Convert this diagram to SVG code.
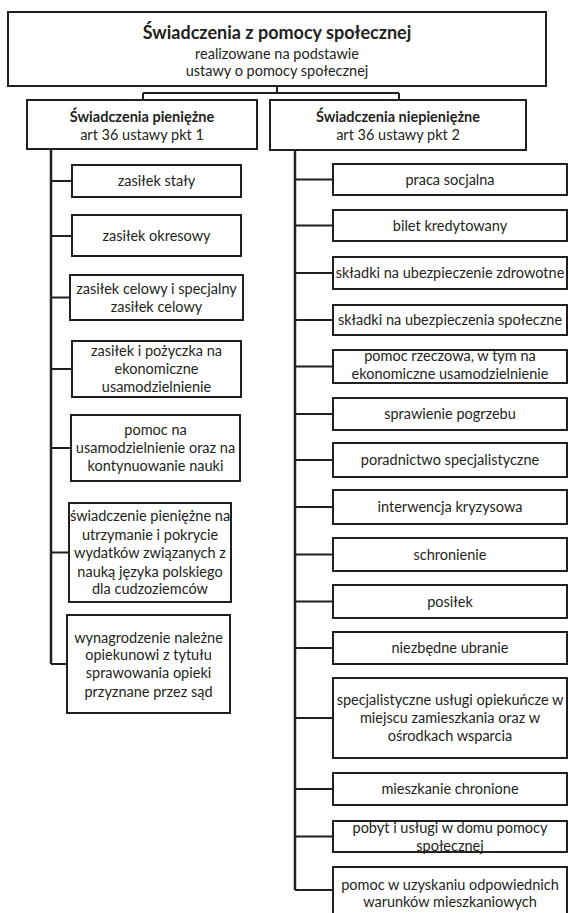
<svg xmlns="http://www.w3.org/2000/svg" width="568" height="913" viewBox="0 0 568 913">
<style>
.box{fill:#fff;stroke:#231f20;stroke-width:2}
.t{font-family:Lato,"Liberation Sans",sans-serif;font-size:14.5px;fill:#231f20;text-anchor:middle}
.b{font-weight:bold}
.title{font-size:18px}
.conn{fill:none;stroke:#231f20;stroke-width:2}
.trunk{fill:none;stroke:#231f20;stroke-width:2.5}
</style>
<rect width="568" height="913" fill="#fff"/>
<g id="connectors">
<path class="conn" d="M277 86V93M143 93H399M143 93V100M399 93V100"/>
<path class="trunk" d="M51 149V664M295 150V890"/>
<path class="conn" d="M51 181H72M51 236H72M51 297.5H70M51 369H72M51 448H71M51 552.5H69M51 664H67"/>
<path class="conn" d="M295 179.5H333M295 225.5H333M295 273H333M295 320H333M295 366.5H333M295 414H333M295 460H333M295 507H333M295 554.5H333M295 601.5H333M295 648H333M295 718H333M295 789H333M295 836.5H333M295 890H333"/>
</g>
<g id="root">
<rect class="box" x="8" y="12" width="538" height="74"/>
<text class="t b title" x="277" y="39">Świadczenia z pomocy społecznej</text>
<text class="t" x="277" y="58.5">realizowane na podstawie</text>
<text class="t" x="277" y="76">ustawy o pomocy społecznej</text>
</g>
<g id="pieniezne">
<rect class="box" x="27" y="100" width="230" height="49"/>
<text class="t b" x="142" y="122">Świadczenia pieniężne</text>
<text class="t" x="142" y="140">art 36 ustawy pkt 1</text>
</g>
<g id="niepieniezne">
<rect class="box" x="270" y="100" width="256" height="50"/>
<text class="t b" x="398" y="122">Świadczenia niepieniężne</text>
<text class="t" x="398" y="140">art 36 ustawy pkt 2</text>
</g>
<g id="l1"><rect class="box" x="72" y="165" width="169" height="32"/><text class="t" x="156.5" y="186">zasiłek stały</text></g>
<g id="l2"><rect class="box" x="72" y="215" width="169" height="41"/><text class="t" x="156.5" y="241">zasiłek okresowy</text></g>
<g id="l3"><rect class="box" x="70" y="275" width="173" height="45"/><text class="t" x="156.5" y="294">zasiłek celowy i specjalny</text><text class="t" x="156.5" y="312">zasiłek celowy</text></g>
<g id="l4"><rect class="box" x="72" y="341" width="169" height="56"/><text class="t" x="156.5" y="356">zasiłek i pożyczka na</text><text class="t" x="156.5" y="374">ekonomiczne</text><text class="t" x="156.5" y="392">usamodzielnienie</text></g>
<g id="l5"><rect class="box" x="71" y="415" width="169" height="66"/><text class="t" x="155.5" y="435">pomoc na</text><text class="t" x="155.5" y="453">usamodzielnienie oraz na</text><text class="t" x="155.5" y="471">kontynuowanie nauki</text></g>
<g id="l6"><rect class="box" x="69" y="503" width="162" height="99"/><text class="t" x="150" y="521">świadczenie pieniężne na</text><text class="t" x="150" y="540">utrzymanie i pokrycie</text><text class="t" x="150" y="558">wydatków związanych z</text><text class="t" x="150" y="577">nauką języka polskiego</text><text class="t" x="150" y="594">dla cudzoziemców</text></g>
<g id="l7"><rect class="box" x="67" y="615" width="163" height="98"/><text class="t" x="148.5" y="643">wynagrodzenie należne</text><text class="t" x="148.5" y="660">opiekunowi z tytułu</text><text class="t" x="148.5" y="678">sprawowania opieki</text><text class="t" x="148.5" y="697">przyznane przez sąd</text></g>
<g id="r1"><rect class="box" x="333" y="164" width="234" height="31"/><text class="t" x="450" y="185">praca socjalna</text></g>
<g id="r2"><rect class="box" x="333" y="210" width="234" height="31"/><text class="t" x="450" y="231">bilet kredytowany</text></g>
<g id="r3"><rect class="box" x="333" y="257" width="234" height="32"/><text class="t" x="450" y="278">składki na ubezpieczenie zdrowotne</text></g>
<g id="r4"><rect class="box" x="333" y="305" width="234" height="30"/><text class="t" x="450" y="325">składki na ubezpieczenia społeczne</text></g>
<g id="r5"><rect class="box" x="333" y="350" width="234" height="33"/><text class="t" x="450" y="361">pomoc rzeczowa, w tym na</text><text class="t" x="450" y="379">ekonomiczne usamodzielnienie</text></g>
<g id="r6"><rect class="box" x="333" y="398" width="234" height="32"/><text class="t" x="450" y="419">sprawienie pogrzebu</text></g>
<g id="r7"><rect class="box" x="333" y="443" width="234" height="34"/><text class="t" x="450" y="465">poradnictwo specjalistyczne</text></g>
<g id="r8"><rect class="box" x="333" y="490" width="234" height="34"/><text class="t" x="450" y="512">interwencja kryzysowa</text></g>
<g id="r9"><rect class="box" x="333" y="538" width="234" height="33"/><text class="t" x="450" y="559.5">schronienie</text></g>
<g id="r10"><rect class="box" x="333" y="585" width="234" height="33"/><text class="t" x="450" y="606.5">posiłek</text></g>
<g id="r11"><rect class="box" x="333" y="632" width="234" height="32"/><text class="t" x="450" y="653">niezbędne ubranie</text></g>
<g id="r12"><rect class="box" x="333" y="678" width="234" height="80"/><text class="t" x="450" y="705">specjalistyczne usługi opiekuńcze w</text><text class="t" x="450" y="723">miejscu zamieszkania oraz w</text><text class="t" x="450" y="741">ośrodkach wsparcia</text></g>
<g id="r13"><rect class="box" x="333" y="773" width="234" height="32"/><text class="t" x="450" y="794">mieszkanie chronione</text></g>
<g id="r14"><rect class="box" x="333" y="821" width="234" height="31"/><text class="t" x="450" y="833">pobyt i usługi w domu pomocy</text><text class="t" x="450" y="851">społecznej</text></g>
<g id="r15"><rect class="box" x="333" y="867" width="234" height="60"/><text class="t" x="450" y="890">pomoc w uzyskaniu odpowiednich</text><text class="t" x="450" y="907">warunków mieszkaniowych</text></g>
</svg>
